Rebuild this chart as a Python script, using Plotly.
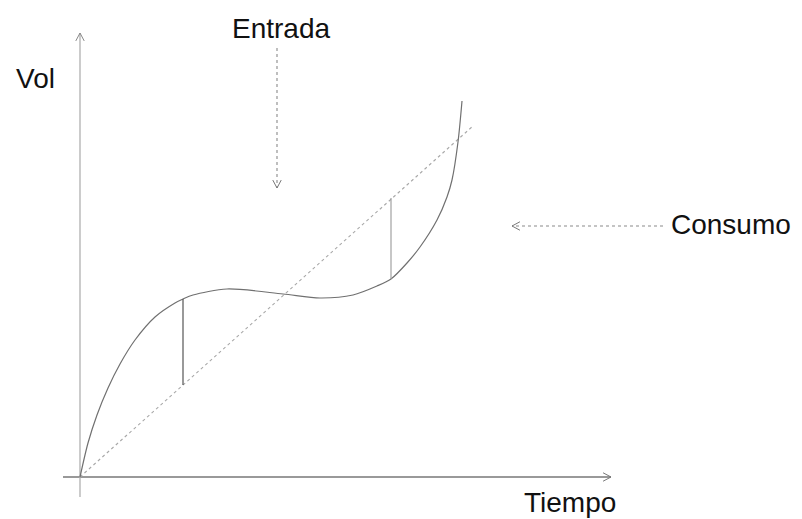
import math
import plotly.graph_objects as go

# Curve (volume accumulated), data units
curve_x = [0, 8, 17, 28, 40, 55, 75, 95, 103, 113, 147, 203, 240, 273, 297, 311, 327, 340, 357, 367, 372, 378, 382]
curve_y = [0, 34, 62, 89, 113, 137, 160, 174, 178, 182, 188, 183, 179, 182, 191, 198, 214, 230, 257, 280, 297, 335, 376]

# Straight consumption line
line_x = [0, 393]
line_y = [0, 351]

# Vertical difference segments
seg1_x = [103, 103]
seg1_y = [178, 92]
seg2_x = [311, 311]
seg2_y = [198, 279]

# Axes extents
xaxis_x = [-17, 531]
xaxis_y = [0, 0]
yaxis_x = [0, 0]
yaxis_y = [-20, 444]

# Pointer arrows
entrada_x = [197, 197]
entrada_y = [429, 289]
consumo_x = [583, 432]
consumo_y = [251, 251]

labels = {"Vol": (-66, 399), "Tiempo": (442, -25), "Entrada": (201, 449), "Consumo": (589, 253)}

fig = go.Figure()

def add_line(xs, ys, color, width=1.2, dash="solid"):
    fig.add_trace(go.Scatter(x=xs, y=ys, mode="lines", line=dict(color=color, width=width, dash=dash),
                             hoverinfo="skip", showlegend=False))

def add_head(xs, ys, color, size=9, ang=28):
    x0, y0, x1, y1 = xs[0], ys[0], xs[1], ys[1]
    d = math.atan2(y1 - y0, x1 - x0)
    wx, wy = [], []
    for s in (1, -1):
        a = d + math.pi - s * math.radians(ang)
        wx += [x1 + size * math.cos(a), x1, None]
        wy += [y1 + size * math.sin(a), y1, None]
    add_line(wx, wy, color, 1.0)

add_line(xaxis_x, xaxis_y, "#777777", 1.3)
add_head(xaxis_x, xaxis_y, "#777777")
add_line(yaxis_x, yaxis_y, "#b0b0b0", 1.3)
add_head(yaxis_x, yaxis_y, "#888888")

add_line(line_x, line_y, "#a8a8a8", 1.1, "dot")
fig.add_trace(go.Scatter(x=curve_x, y=curve_y, mode="lines", line=dict(color="#707070", width=1.2, shape="spline", smoothing=0.8),
                         hoverinfo="skip", showlegend=False))
add_line(seg1_x, seg1_y, "#555555", 1.2)
add_line(seg2_x, seg2_y, "#999999", 1.1)

add_line(entrada_x, entrada_y, "#8a8a8a", 1.1, "dot")
add_head(entrada_x, entrada_y, "#777777")
add_line(consumo_x, consumo_y, "#8a8a8a", 1.1, "dot")
add_head(consumo_x, consumo_y, "#777777")

font = dict(family="Liberation Sans, Arial, sans-serif", size=28, color="#111111")
fig.add_annotation(x=labels["Vol"][0], y=labels["Vol"][1], text="Vol", showarrow=False, xanchor="left", yanchor="middle", font=font)
fig.add_annotation(x=labels["Tiempo"][0], y=labels["Tiempo"][1], text="Tiempo", showarrow=False, xanchor="left", yanchor="middle", font=font)
fig.add_annotation(x=labels["Entrada"][0], y=labels["Entrada"][1], text="Entrada", showarrow=False, xanchor="center", yanchor="middle", font=font)
fig.add_annotation(x=labels["Consumo"][0], y=labels["Consumo"][1], text="Consumo", showarrow=False, xanchor="left", yanchor="middle", font=font)

fig.update_layout(width=802, height=519, margin=dict(l=0, r=0, t=0, b=0),
                  paper_bgcolor="white", plot_bgcolor="white",
                  xaxis=dict(range=[-80, 722], visible=False, fixedrange=True),
                  yaxis=dict(range=[-42, 477], visible=False, fixedrange=True))
fig.write_html("out.html", config={"displayModeBar": False},
               post_script="document.body.style.margin='0';document.body.style.overflow='hidden';")
